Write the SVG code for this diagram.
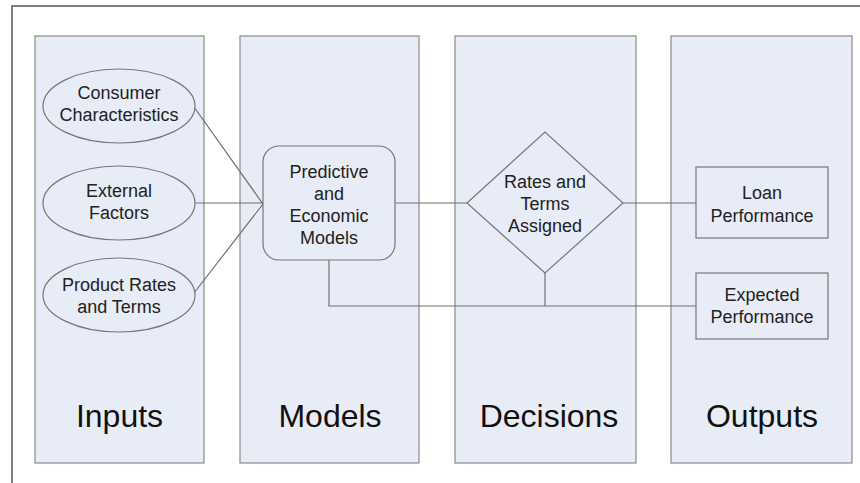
<svg xmlns="http://www.w3.org/2000/svg" width="860" height="483" viewBox="0 0 860 483">
  <style>
    .frame { fill: none; stroke: #555; stroke-width: 1.5; }
    .lane { fill: #E8ECF7; stroke: #8a8a8a; stroke-width: 1.2; }
    .node { fill: #E8ECF7; stroke: #777; stroke-width: 1.2; }
    .conn { fill: none; stroke: #707070; stroke-width: 1.2; }
    .t { font-family: "Liberation Sans", Arial, sans-serif; font-size: 18px; fill: #222; text-anchor: middle; }
    .title { font-family: "Liberation Sans", Arial, sans-serif; font-size: 32px; fill: #111; text-anchor: middle; }
  </style>
  <rect width="860" height="483" fill="#ffffff"/>
  <path class="frame" d="M12,483 V6 H860"/>

  <g id="lane-inputs">
    <rect class="lane" x="35" y="36" width="169" height="427"/>
    <text class="title" x="119.5" y="427">Inputs</text>
  </g>
  <g id="lane-models">
    <rect class="lane" x="240" y="36" width="179" height="427"/>
    <text class="title" x="330" y="427">Models</text>
  </g>
  <g id="lane-decisions">
    <rect class="lane" x="455" y="36" width="181" height="427"/>
    <text class="title" x="549" y="427">Decisions</text>
  </g>
  <g id="lane-outputs">
    <rect class="lane" x="671" y="36" width="181" height="427"/>
    <text class="title" x="762" y="427">Outputs</text>
  </g>

  <g id="connectors">
    <line class="conn" x1="194" y1="107" x2="263" y2="204"/>
    <line class="conn" x1="195" y1="203" x2="263" y2="203"/>
    <line class="conn" x1="194" y1="293" x2="263" y2="204"/>
    <line class="conn" x1="395" y1="203" x2="467" y2="203"/>
    <line class="conn" x1="623" y1="203" x2="696" y2="203"/>
    <polyline class="conn" points="329,260 329,306 696,306"/>
    <line class="conn" x1="545" y1="273" x2="545" y2="306"/>
  </g>

  <g id="consumer-characteristics">
    <ellipse class="node" cx="119" cy="106" rx="76" ry="37"/>
    <text class="t" x="119" y="99">Consumer</text>
    <text class="t" x="119" y="121">Characteristics</text>
  </g>
  <g id="external-factors">
    <ellipse class="node" cx="119" cy="203" rx="76" ry="37"/>
    <text class="t" x="119" y="197">External</text>
    <text class="t" x="119" y="219">Factors</text>
  </g>
  <g id="product-rates-terms">
    <ellipse class="node" cx="119" cy="295" rx="76" ry="37"/>
    <text class="t" x="119" y="291">Product Rates</text>
    <text class="t" x="119" y="313">and Terms</text>
  </g>
  <g id="predictive-models">
    <rect class="node" x="263" y="146" width="132" height="114" rx="16"/>
    <text class="t" x="329" y="178">Predictive</text>
    <text class="t" x="329" y="200">and</text>
    <text class="t" x="329" y="222">Economic</text>
    <text class="t" x="329" y="244">Models</text>
  </g>
  <g id="rates-terms-assigned">
    <polygon class="node" points="467,203 545,132 623,203 545,273"/>
    <text class="t" x="545" y="188">Rates and</text>
    <text class="t" x="545" y="210">Terms</text>
    <text class="t" x="545" y="232">Assigned</text>
  </g>
  <g id="loan-performance">
    <rect class="node" x="696" y="167" width="132" height="71"/>
    <text class="t" x="762" y="199">Loan</text>
    <text class="t" x="762" y="222">Performance</text>
  </g>
  <g id="expected-performance">
    <rect class="node" x="696" y="273" width="132" height="66"/>
    <text class="t" x="762" y="301">Expected</text>
    <text class="t" x="762" y="323">Performance</text>
  </g>
</svg>
